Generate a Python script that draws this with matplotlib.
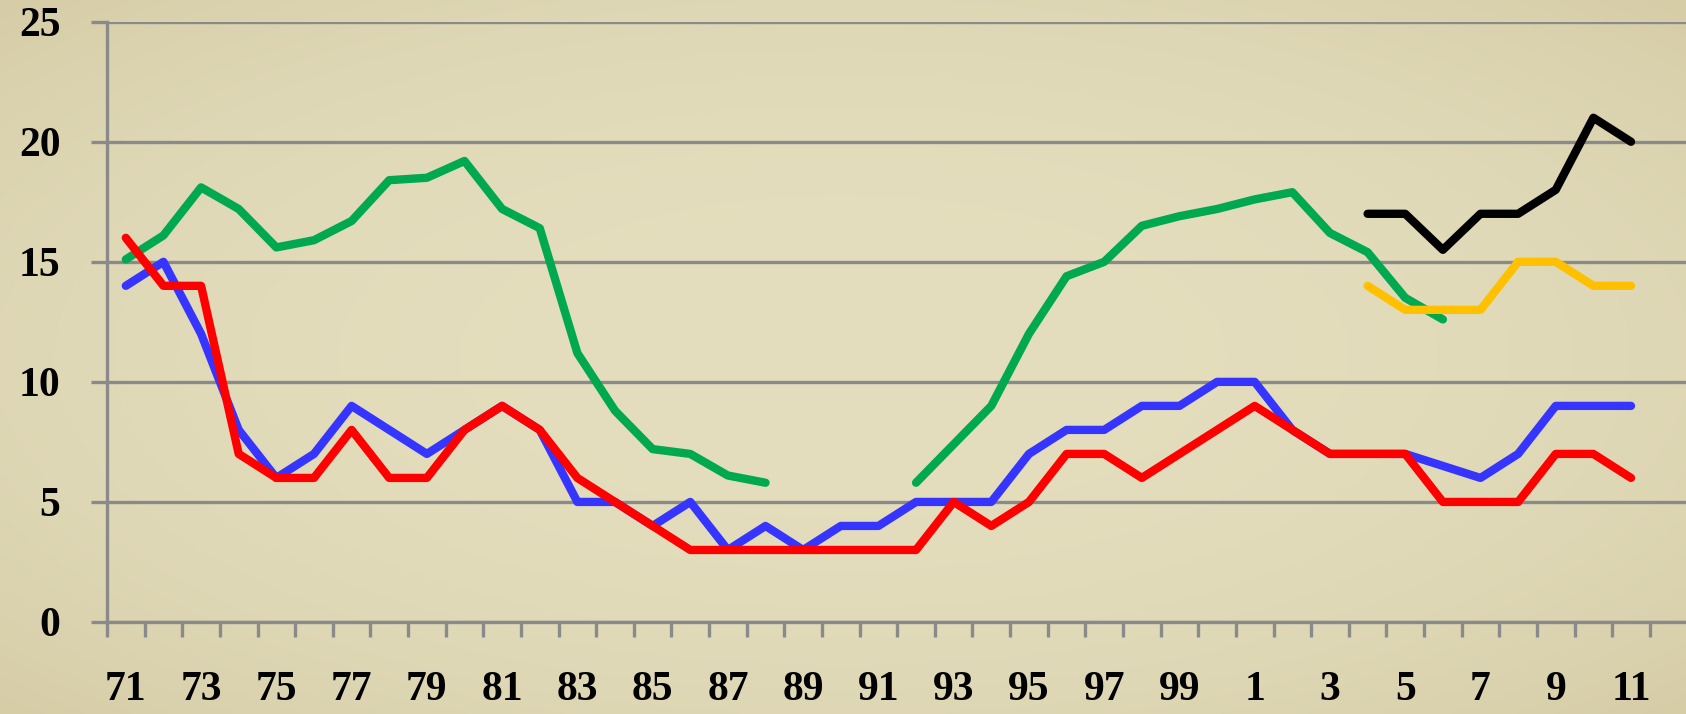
import numpy as np
import matplotlib
matplotlib.use("Agg")
import matplotlib.pyplot as plt

nan = np.nan

# yearly values, 1971 - 2011
years = list(range(1971, 2012))
green = [15.1, 16.1, 18.1, 17.2, 15.6, 15.9, 16.7, 18.4, 18.5, 19.2, 17.2, 16.4,
         11.2, 8.8, 7.2, 7.0, 6.1, 5.8, nan, nan, nan,
         5.8, 7.4, 9.0, 12.0, 14.4, 15.0, 16.5, 16.9, 17.2, 17.6, 17.9, 16.2,
         15.4, 13.5, 12.6, nan, nan, nan, nan, nan]
blue = [14, 15, 12, 8, 6, 7, 9, 8, 7, 8, 9, 8, 5, 5, 4, 5, 3, 4, 3, 4, 4,
        5, 5, 5, 7, 8, 8, 9, 9, 10, 10, 8, 7, 7, 7, 6.5, 6, 7, 9, 9, 9]
red = [16, 14, 14, 7, 6, 6, 8, 6, 6, 8, 9, 8, 6, 5, 4, 3, 3, 3, 3, 3, 3,
       3, 5, 4, 5, 7, 7, 6, 7, 8, 9, 8, 7, 7, 7, 5, 5, 5, 7, 7, 6]

# the two short series only start in 2004
recent_years = list(range(2004, 2012))
black = [17, 17, 15.5, 17, 17, 18, 21, 20]
orange = [14, 13, 13, 13, 15, 15, 14, 14]

# labels under every other year: 71, 73, ... 99, 1, 3, ... 11
label_years = [y for y in years if y % 2 == 1]
label_text = [str(y % 100) for y in label_years]

plt.rcParams['font.family'] = ['Liberation Serif', 'DejaVu Serif']
plt.rcParams['font.weight'] = 'bold'

W, H = 1686, 714
GRID = '#8a8a8a'


def draw():
    fig = plt.figure(figsize=(W / 100, H / 100), dpi=100)

    # parchment-ish background with a soft vignette
    bg = fig.add_axes([0, 0, 1, 1], zorder=0)
    yy, xx = np.mgrid[-1:1:180j, -1:1:400j]
    r = np.clip(np.sqrt(xx**2 + yy**2) / np.sqrt(2), 0, 1)
    light = np.array([228, 222, 190]) / 255
    dark = np.array([214, 205, 167]) / 255
    img = light + (dark - light) * (r[..., None] ** 2.5)
    bg.imshow(img, aspect='auto', extent=[0, 1, 0, 1], interpolation='bilinear')
    bg.axis('off')

    left, bottom, top = 107, 622, 21.7
    ax = fig.add_axes([left / W, (H - bottom) / H, 1 - left / W, (bottom - top) / H], zorder=1)
    ax.patch.set_alpha(0)

    idx = [y - years[0] for y in years]
    ridx = [y - years[0] for y in recent_years]
    kw = dict(lw=6, solid_capstyle='round', solid_joinstyle='round', zorder=3)
    ax.plot(idx, green, color='#00a84f', **kw)
    ax.plot(idx, blue, color='#3535ff', **kw)
    ax.plot(idx, red, color='#ff0000', **kw)
    ax.plot(ridx, black, color='#000000', **kw)
    ax.plot(ridx, orange, color='#ffc000', **kw)

    cat_w = 37.63
    ax.set_xlim(-0.5, -0.5 + (W - left) / cat_w)
    ax.set_ylim(0, 25)

    ax.set_yticks(range(0, 26, 5))
    ax.yaxis.grid(True, color=GRID, lw=2.4)
    ax.set_axisbelow(True)
    ax.tick_params(axis='y', length=11.5, width=2.4, color=GRID, pad=22, labelsize=30)

    # tick marks sit between the years, labels on the years
    ax.set_xticks(np.arange(-0.5, len(years), 1))
    ax.set_xticklabels([])
    ax.set_xticks([y - years[0] for y in label_years], label_text, minor=True)
    ax.tick_params(axis='x', which='major', length=11, width=2.4, color=GRID)
    ax.tick_params(axis='x', which='minor', length=0, pad=35, labelsize=30)

    for s in ['top', 'right']:
        ax.spines[s].set_visible(False)
    for s in ['left', 'bottom']:
        ax.spines[s].set_color(GRID)
        ax.spines[s].set_linewidth(2.4)

    fig.savefig('out.png', dpi=100)


if __name__ == "__main__":
    draw()
